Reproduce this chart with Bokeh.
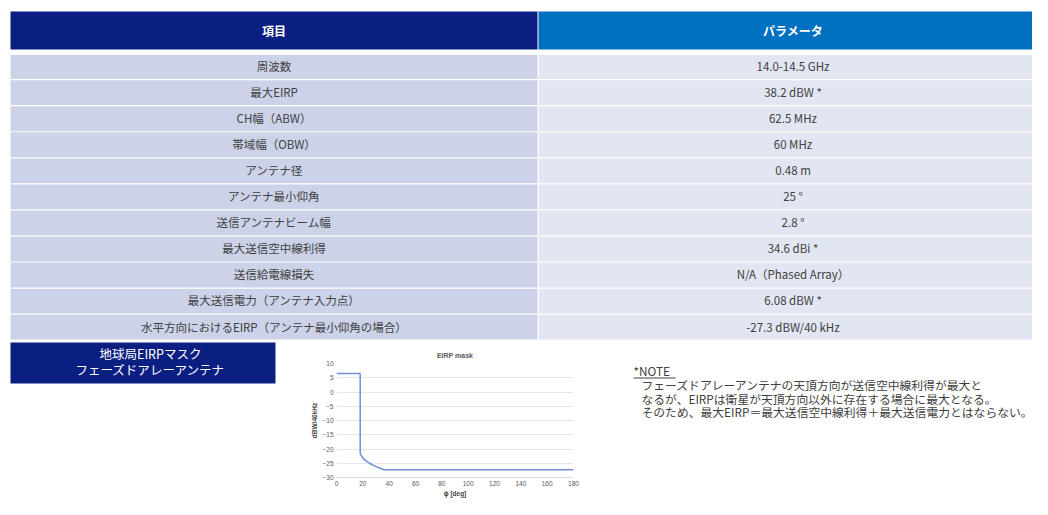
from bokeh.plotting import figure
from bokeh.layouts import column, row
from bokeh.models import FixedTicker, Range1d
from bokeh.core.properties import value
from bokeh.embed import file_html
from bokeh.resources import INLINE

# ---------------- data ----------------
header_items = ["項目", "パラメータ"]
items = ["周波数", "最大EIRP", "CH幅（ABW）", "帯域幅（OBW）", "アンテナ径", "アンテナ最小仰角",
         "送信アンテナビーム幅", "最大送信空中線利得", "送信給電線損失",
         "最大送信電力（アンテナ入力点）", "水平方向におけるEIRP（アンテナ最小仰角の場合）"]
params = ["14.0-14.5 GHz", "38.2 dBW *", "62.5 MHz", "60 MHz", "0.48 m", "25 °", "2.8 °",
          "34.6 dBi *", "N/A（Phased Array）", "6.08 dBW *", "-27.3 dBW/40 kHz"]
box_lines = ["地球局EIRPマスク", "フェーズドアレーアンテナ"]
note_title = "*NOTE"
note_lines = ["フェーズドアレーアンテナの天頂方向が送信空中線利得が最大と",
              "なるが、EIRPは衛星が天頂方向以外に存在する場合に最大となる。",
              "そのため、最大EIRP＝最大送信空中線利得＋最大送信電力とはならない。"]
phi_deg = [0, 18, 18, 20, 22, 25, 30, 36, 180]
eirp_mask = [6.5, 6.5, -21.5, -23.2, -24.0, -25.0, -26.2, -27.3, -27.3]
x_ticks = [0, 20, 40, 60, 80, 100, 120, 140, 160, 180]
y_ticks = [-30, -25, -20, -15, -10, -5, 0, 5, 10]

JP = "Noto Sans CJK JP"
NAVY = "#0B1F82"
BLUE = "#0070C0"
TXT = "#404040"

W, H_TABLE, H_BOTTOM = 1032, 341, 158
W_LEFT, W_CHART = 300, 282


def blank(width, height):
    f = figure(width=width, height=height, x_range=Range1d(0, width), y_range=Range1d(height, 0),
               x_axis_type=None, y_axis_type=None, toolbar_location=None, output_backend="svg",
               min_border=0, outline_line_color=None, background_fill_color="white",
               border_fill_color="white")
    f.grid.visible = False
    return f


# ---------------- table ----------------
t = blank(W, H_TABLE)
col_l, col_m, col_r = 10, 537, W
t.quad(left=[col_l, col_m + 1], right=[col_m, col_r], top=[11, 11], bottom=[49, 49],
       fill_color=[NAVY, BLUE], line_color=None)
t.text(x=[(col_l + col_m) / 2, (col_m + col_r + 16) / 2], y=[30, 30], text=header_items,
       text_font=value(JP), text_font_size="12px", text_font_style="bold", text_color="white",
       text_align="center", text_baseline="middle")

row_h, row0 = 26.05, 52.5
n = len(items)
tops = [row0 + row_h * i + (1.2 if i > 0 else 2) for i in range(n)]
bots = [row0 + row_h * (i + 1) for i in range(n)]
mids = [row0 + row_h * (i + 0.5) for i in range(n)]
t.quad(left=[col_l] * n, right=[col_m] * n, top=tops, bottom=bots, fill_color="#CCD2E8", line_color=None)
t.quad(left=[col_m + 1.5] * n, right=[col_r] * n, top=tops, bottom=bots, fill_color="#E2E5F2", line_color=None)
t.text(x=[(col_l + col_m) / 2] * n, y=mids, text=items, text_font=value(JP), text_font_size="11.5px",
       text_color=TXT, text_align="center", text_baseline="middle")
t.text(x=[(col_m + col_r + 16) / 2] * n, y=mids, text=params, text_font=value(JP), text_font_size="11.5px",
       text_color=TXT, text_align="center", text_baseline="middle")

# ---------------- bottom left label box ----------------
lb = blank(W_LEFT, H_BOTTOM)
lb.quad(left=[10], right=[275], top=[1], bottom=[42], fill_color=NAVY, line_color=None)
lb.text(x=[150, 150], y=[12, 28], text=box_lines, text_font=value(JP), text_font_size="12.5px",
        text_color="white", text_align="center", text_baseline="middle")

# ---------------- EIRP mask chart ----------------
c = figure(width=W_CHART, height=H_BOTTOM, x_range=(0, 180), y_range=(-30, 10), toolbar_location=None,
           output_backend="svg", min_border_left=36, min_border_right=9, min_border_top=22,
           min_border_bottom=18, outline_line_color=None, title="EIRP mask")
c.title.align = "center"
c.title.text_font = "Liberation Sans"
c.title.text_font_size = "7px"
c.title.text_color = "#595959"
c.title.text_font_style = "bold"
c.line(phi_deg, eirp_mask, line_color="#6F8FD8", line_width=1.5)
c.xaxis.ticker = FixedTicker(ticks=x_ticks)
c.yaxis.ticker = FixedTicker(ticks=y_ticks)
c.xgrid.visible = False
c.ygrid.grid_line_color = "#E6E6E6"
for ax in (c.xaxis, c.yaxis):
    ax.major_tick_line_color = None
    ax.minor_tick_line_color = None
    ax.major_tick_out = 0
    ax.major_tick_in = 0
    ax.major_label_text_font = "Liberation Sans"
    ax.major_label_text_font_size = "6.5px"
    ax.major_label_text_color = "#595959"
    ax.axis_label_text_font = "Liberation Sans"
    ax.axis_label_text_font_size = "6.5px"
    ax.axis_label_text_font_style = "bold"
    ax.axis_label_text_color = "#404040"
    ax.axis_label_standoff = 1
    ax.major_label_standoff = 3
c.xaxis.axis_line_color = "#D9D9D9"
c.yaxis.axis_line_color = None
c.xaxis.axis_label = "ϕ [deg]"
c.yaxis.axis_label = "dBW/40kHz"

# ---------------- note ----------------
W_NOTE = W - W_LEFT - W_CHART
nt = blank(W_NOTE, H_BOTTOM)
nx0 = 633 - W_LEFT - W_CHART
nt.text(x=[nx0], y=[29], text=[note_title], text_font=value(JP), text_font_size="11.8px",
        text_color=TXT, text_align="left", text_baseline="middle")
nt.segment(x0=[nx0], y0=[36.5], x1=[nx0 + 42], y1=[36.5], line_color=TXT, line_width=1)
nt.text(x=[nx0 + 8] * 3, y=[43, 56.5, 70], text=note_lines, text_font=value(JP),
        text_font_size="11.8px", text_color=TXT, text_align="left", text_baseline="middle")

layout = column(t, row(column(lb), column(c), column(nt), spacing=0), spacing=0)
open("out.html", "w").write(file_html(layout, INLINE))
